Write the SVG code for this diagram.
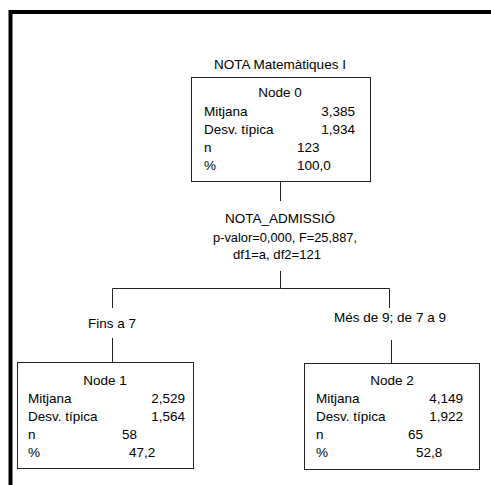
<svg xmlns="http://www.w3.org/2000/svg" width="491" height="485" viewBox="0 0 491 485">
<style>
text{font-family:"Liberation Sans",Arial,sans-serif;font-size:13.5px;fill:#000}
.c{text-anchor:middle}
.r{text-anchor:end}
.box{fill:#fff;stroke:#222;stroke-width:1}
.ln{fill:none;stroke:#222;stroke-width:1}
</style>
<rect x="0" y="0" width="491" height="485" fill="#fff"/>
<path d="M10.5 485V12H491" fill="none" stroke="#000" stroke-width="4"/>
<text class="c" x="280" y="69">NOTA Matemàtiques I</text>
<g id="connectors">
<path class="ln" d="M280.5 181V201"/>
<path class="ln" d="M280.5 271V288.5H112.5V308"/>
<path class="ln" d="M280.5 288.5H389.5V308"/>
<path class="ln" d="M112.5 338V362"/>
<path class="ln" d="M391.5 340V363"/>
<text class="c" x="280" y="223">NOTA_ADMISSIÓ</text>
<text class="c" x="285" y="242" textLength="144" lengthAdjust="spacingAndGlyphs">p-valor=0,000, F=25,887,</text>
<text class="c" x="277" y="259" textLength="88" lengthAdjust="spacingAndGlyphs">df1=a, df2=121</text>
<text class="c" x="112" y="328">Fins a 7</text>
<text class="c" x="390" y="322">Més de 9; de 7 a 9</text>
</g>
<g id="node0">
<rect class="box" x="191.5" y="77.5" width="179" height="104"/>
<text class="c" x="280" y="97">Node 0</text>
<text x="204" y="116">Mitjana</text>
<text class="r" x="355" y="116">3,385</text>
<text x="204" y="134">Desv. típica</text>
<text class="r" x="355" y="134">1,934</text>
<text x="204" y="152">n</text>
<text x="297" y="152">123</text>
<text x="204" y="170">%</text>
<text x="297" y="170">100,0</text>
</g>
<g id="node1">
<rect class="box" x="17.5" y="362.5" width="176" height="106"/>
<text class="c" x="105" y="385">Node 1</text>
<text x="28" y="403">Mitjana</text>
<text class="r" x="185" y="403">2,529</text>
<text x="28" y="421">Desv. típica</text>
<text class="r" x="185" y="421">1,564</text>
<text x="28" y="439">n</text>
<text x="122" y="439">58</text>
<text x="28" y="457">%</text>
<text x="129" y="457">47,2</text>
</g>
<g id="node2">
<rect class="box" x="304.5" y="363.5" width="175" height="106"/>
<text class="c" x="392" y="385">Node 2</text>
<text x="316" y="403">Mitjana</text>
<text class="r" x="463" y="403">4,149</text>
<text x="316" y="421">Desv. típica</text>
<text class="r" x="463" y="421">1,922</text>
<text x="316" y="439">n</text>
<text x="408" y="439">65</text>
<text x="316" y="457">%</text>
<text x="416" y="457">52,8</text>
</g>
</svg>
